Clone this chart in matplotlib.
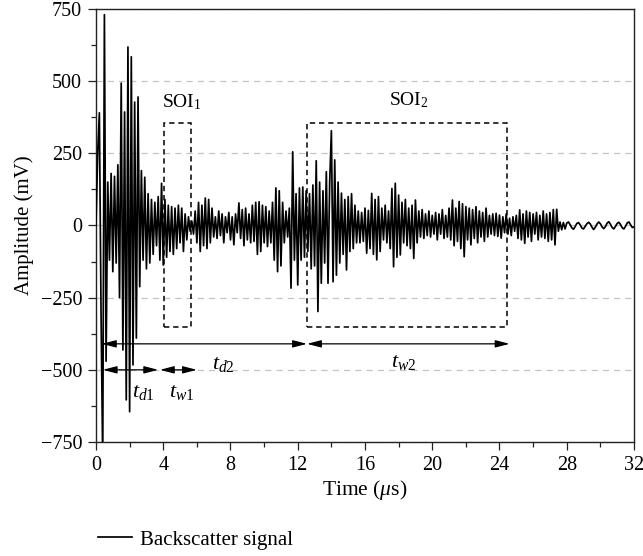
import numpy as np
import matplotlib
matplotlib.use("Agg")
import matplotlib.pyplot as plt
from matplotlib.patches import Rectangle, FancyArrowPatch
from matplotlib.ticker import MultipleLocator

plt.rcParams['font.family'] = ['Liberation Serif', 'DejaVu Serif']
plt.rcParams['mathtext.fontset'] = 'custom'
plt.rcParams['mathtext.rm'] = 'Liberation Serif'
plt.rcParams['mathtext.it'] = 'Liberation Serif:italic'

t_start, t_step = 0.0, 0.1
amp_mV = [
    0, 250, 390, -300, -820, 730, -470, 150, -120, 180,
    -160, 170, -130, 210, -250, 493, -431, 393, -604, 618,
    -645, 584, -483, 427, -390, 445, -212, 190, -120, 167,
    -150, 110, -130, 90, -100, 80, -70, 100, -120, 146,
    -137, 90, -110, 70, -90, 65, -100, 60, -80, 70,
    -60, 60, -90, 40, -50, 30, -20, 15, -30, 50,
    -60, 80, -90, 70, -70, 95, -80, 90, -60, 60,
    -40, 30, -45, 50, -35, 40, -60, 30, -25, 45,
    -50, 30, -67, 40, -25, 78, -45, 55, -70, 60,
    -50, 40, -60, 70, -55, 80, -100, 82, -90, 70,
    -60, 65, -73, 50, -60, 80, -120, 130, -160, 120,
    -140, 80, -60, 50, -40, 60, -217, 255, -120, 110,
    -206, 130, -120, 133, -110, 120, -90, 110, -150, 140,
    -140, 224, -298, 150, -200, 120, -130, 186, -200, 150,
    328, -195, 227, -172, 150, -130, 112, -100, 90, -154,
    100, -90, 110, -80, 70, -60, 50, -60, 45, -55,
    60, -96, 52, -80, 111, -100, 90, -119, 100, -90,
    60, -50, 70, -60, 50, -80, 128, -143, 146, -110,
    105, -102, 80, -60, 90, -70, 60, -80, 70, -114,
    88, -60, 50, -40, 55, -45, 40, -35, 50, -40,
    35, -30, 45, -50, 40, -30, 55, -45, 35, -40,
    60, -50, 88, -70, 60, -55, 83, -80, 75, -108,
    65, -50, 60, -67, 55, -45, 65, -60, 50, -40,
    45, -55, 60, -40, 35, -30, 40, -35, 42, -38,
    36, -44, 30, -25, 40, -30, 25, -35, 30, -20,
    35, -45, 54, -50, 40, -62, 50, -40, 45, -55,
    40, -30, 45, -50, 35, -40, 50, -45, 40, -55,
    45, -50, 55, -67, 56, -20, 12, -15, 10, -12,
    8, 12, 3, -8, -13, -4, 7, 10, 2, -9,
    -12, -3, 6, 11, 5, -6, -14, -6, 5, 12,
    6, -5, -11, -4, 8, 13, 4, -7, -12, -3,
    7, 11, 3, -8, -12, -2, 9, 12, 2, -7,
    -5,
]
time_us = t_start + t_step * np.arange(len(amp_mV))

x_ticks = [0, 4, 8, 12, 16, 20, 24, 28, 32]
y_ticks = [-750, -500, -250, 0, 250, 500, 750]

# annotation geometry (data units)
soi1_box = (4.05, 5.65, -350, 355)
soi2_box = (12.55, 24.45, -350, 355)
arrows_upper = [(0.35, 12.55), (12.55, 24.6)]
arrows_lower = [(0.4, 3.7), (3.8, 6.0)]
y_upper, y_lower = -410, -500

fig = plt.figure(figsize=(6.43, 5.56), dpi=100)
ax = fig.add_axes([0.1493, 0.205, 0.8367, 0.779])

for yv in y_ticks:
    ax.axhline(yv, color='#c4c4c4', lw=0.9, ls=(0, (5, 4)), zorder=0)

ax.plot(time_us, amp_mV, color='black', lw=1.25, label='Backscatter signal', zorder=3)

for (x0, x1, y0, y1) in (soi1_box, soi2_box):
    ax.add_patch(Rectangle((x0, y0), x1 - x0, y1 - y0, fill=False, ec='black',
                           lw=1.1, ls=(0, (3.5, 2.5)), zorder=4))

for (a, b), yy in [(p, y_upper) for p in arrows_upper] + [(p, y_lower) for p in arrows_lower]:
    arr = FancyArrowPatch((a, yy), (b, yy), arrowstyle='<|-|>,head_length=0.85,head_width=0.22',
                          mutation_scale=10, color='black', lw=0.9, shrinkA=0, shrinkB=0, zorder=5)
    ax.add_patch(arr)

ax.text(5.1, 427, r'SOI$_1$', fontsize=14, ha='center', va='center')
ax.text(18.6, 434, r'SOI$_2$', fontsize=14, ha='center', va='center')
ax.text(2.8, -580, r'$t_{d1}$', fontsize=16, ha='center', va='center')
ax.text(5.1, -580, r'$t_{w1}$', fontsize=16, ha='center', va='center')
ax.text(7.6, -483, r'$t_{d2}$', fontsize=16, ha='center', va='center')
ax.text(18.3, -476, r'$t_{w2}$', fontsize=16, ha='center', va='center')

ax.set_xlim(0, 32)
ax.set_ylim(-750, 750)
ax.set_xticks(x_ticks)
ax.set_yticks(y_ticks)
ax.set_yticklabels([f'{v:d}'.replace('-', '\u2212') for v in y_ticks])
ax.xaxis.set_minor_locator(MultipleLocator(2))
ax.yaxis.set_minor_locator(MultipleLocator(125))
ax.tick_params(which='major', direction='out', length=5.5, width=0.9, pad=4.5,
               labelsize=14.5, colors='#222222')
ax.tick_params(which='minor', direction='out', length=3.5, width=0.9, colors='#222222')
ax.tick_params(labelcolor='black')
for s in ax.spines.values():
    s.set_linewidth(1.0)
    s.set_color('#222222')

ax.set_xlabel(r'Time ($\mu$s)', fontsize=15.5, labelpad=2)
ax.set_ylabel('Amplitude (mV)', fontsize=15, labelpad=5)

fig.legend(loc='center left', bbox_to_anchor=(0.14, 0.029), frameon=False,
           fontsize=15, handlelength=1.6, handletextpad=0.4, borderaxespad=0)

fig.savefig('out.png', dpi=100)
